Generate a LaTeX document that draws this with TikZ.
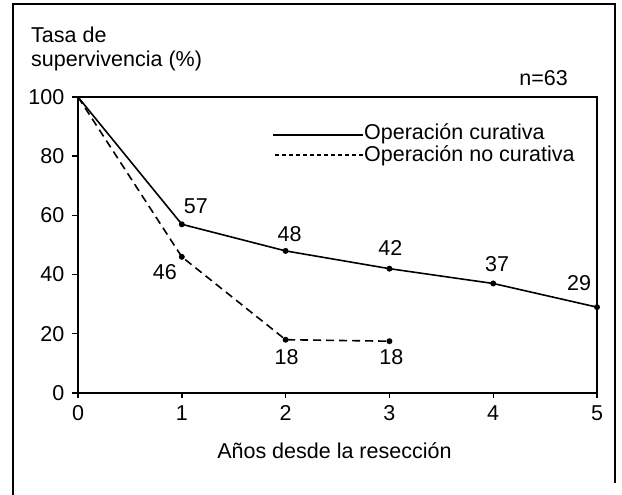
\documentclass[tikz,border=0pt]{standalone}
\usepackage{fontspec}
\setmainfont{Liberation Sans}
\usepackage{tikz}
\usetikzlibrary{positioning}

\begin{document}
\begin{tikzpicture}[x=1pt,y=1pt,
    every node/.style={font=\fontsize{21.5}{25}\selectfont,inner sep=1pt},
    axis/.style={line width=2pt},
    curve/.style={line width=1.6pt},
    nocurve/.style={line width=1.6pt,dash pattern=on 8pt off 5pt},
    legdash/.style={line width=1.4pt,dash pattern=on 4pt off 3pt}]
  \useasboundingbox (0,0) rectangle (622,495);
  % outer frame, open at the bottom
  \draw[line width=1.6pt] (13,0) -- (13,491) -- (615,491) -- (615,12);
  \node[anchor=base west] (ytitle) at (30,452) {Tasa de};
  \node[anchor=base west] (ytitle2) at (30,428) {supervivencia (\%)};
  \node[anchor=base east] (ncount) at (569,409) {n=63};
  % legend
  \node[anchor=base west] (leg1) at (363,355) {Operación curativa};
  \node[anchor=base west] (leg2) at (363,333) {Operación no curativa};
  \coordinate (leg1s) at (273,360);
  \coordinate (leg2s) at (275,340);
  \draw[line width=1.4pt] (leg1s) -- (leg1s -| leg1.west);
  \draw[legdash] (leg2s) -- (leg2s -| leg2.west);
  \begin{scope}[shift={(78,102)},x=103.8pt,y=2.96pt]
    \draw[axis] (0,0) rectangle (5,100);
    \foreach \v in {0,20,...,100}
      \draw[line width=1.4pt] (0,\v) -- ++(-6pt,0) node[anchor=east,xshift=-6pt] (ty\v) {\v};
    \foreach \x in {0,...,5}
      \draw[line width=1.4pt] (\x,0) -- ++(0,-5pt) node[anchor=north,yshift=-6pt] (tx\x) {\x};
    \node[anchor=base] (xtitle) at ([yshift=-66pt]2.47,0) {Años desde la resección};
    % data
    \foreach \x/\v in {0/100,1/57,2/48,3/42,4/37,5/29} \coordinate (c\x) at (\x,\v);
    \foreach \x/\v in {0/100,1/46,2/18,3/17.5} \coordinate (n\x) at (\x,\v);
    \draw[curve] (c0) -- (c1) -- (c2) -- (c3) -- (c4) -- (c5);
    \draw[nocurve] (n0) -- (n1) -- (n2) -- (n3);
    \foreach \p in {c1,c2,c3,c4,c5,n1,n2,n3} \fill (\p) circle (3pt);
    \foreach \p/\t/\dx/\dy in {c1/57/14pt/18pt, c2/48/4pt/17pt, c3/42/1pt/21pt,
        c4/37/4pt/19pt, c5/29/-18pt/24pt, n1/46/-17pt/-15pt, n2/18/1pt/-17pt, n3/18/2pt/-16pt}
      \path (\p) ++(\dx,\dy) node (v\p) {\t};
  \end{scope}
\end{tikzpicture}
\end{document}
